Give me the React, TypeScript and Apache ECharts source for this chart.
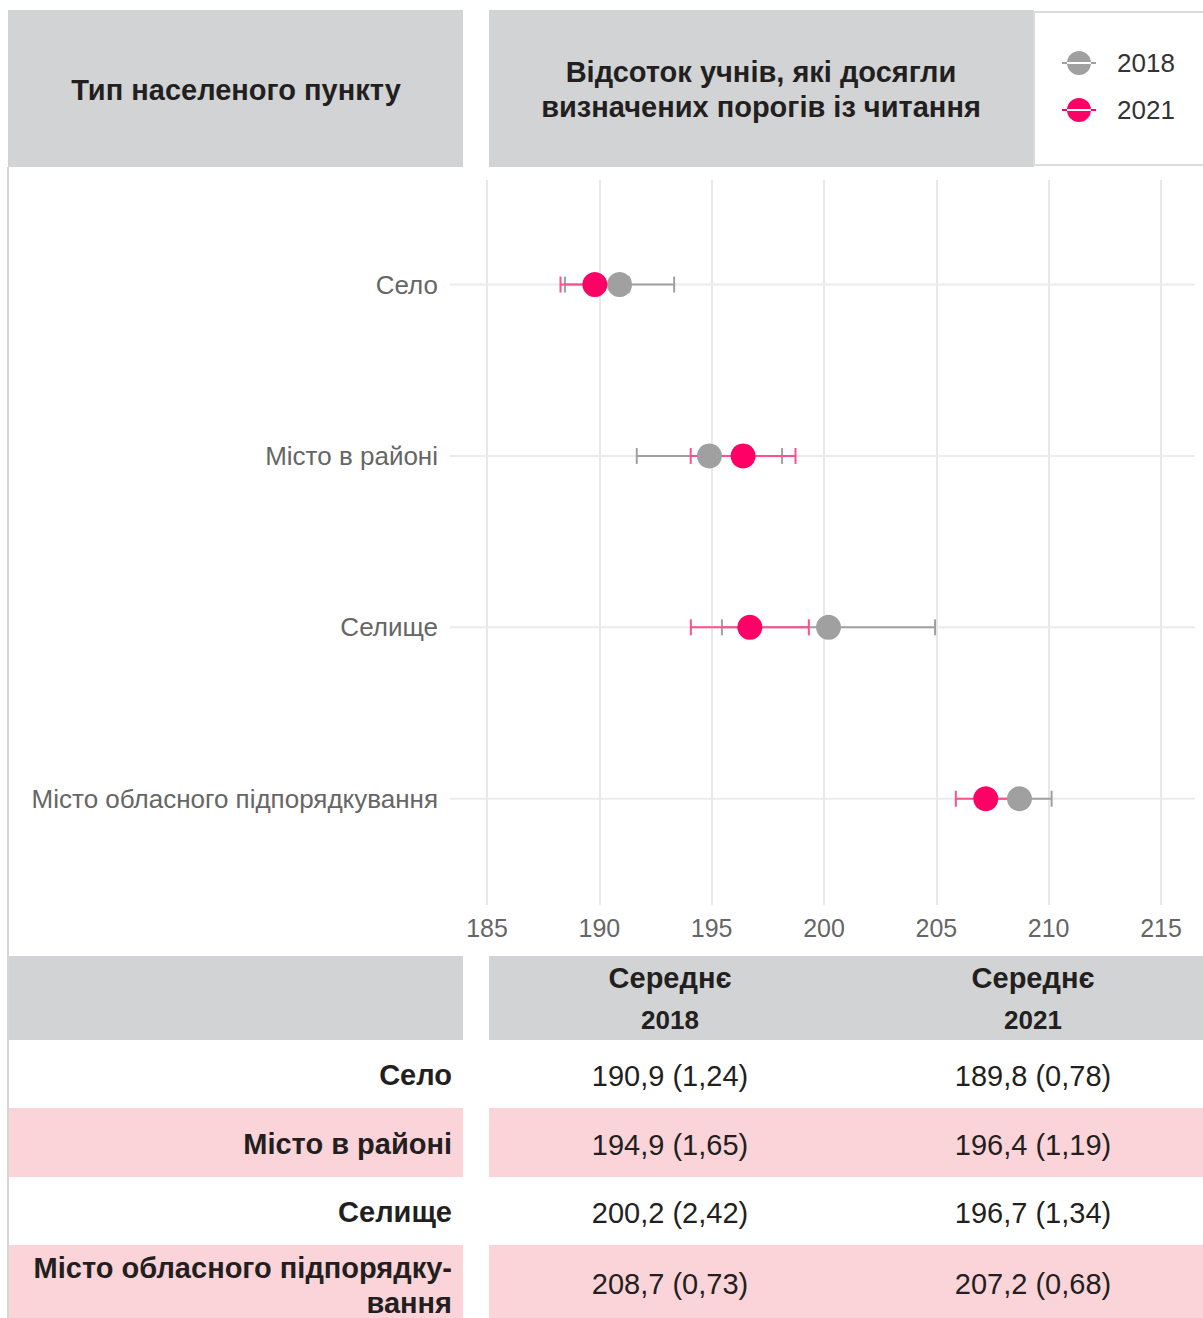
import React, { useEffect, useRef } from "react";
import * as echarts from "echarts";

const categories = ["Село", "Місто в районі", "Селище", "Місто обласного підпорядкування"];
const tableLabels = [["Село"], ["Місто в районі"], ["Селище"], ["Місто обласного підпорядку-", "вання"]];
const years = ["2018", "2021"];
const mean2018 = [190.9, 194.9, 200.2, 208.7];
const se2018 = [1.24, 1.65, 2.42, 0.73];
const mean2021 = [189.8, 196.4, 196.7, 207.2];
const se2021 = [0.78, 1.19, 1.34, 0.68];
const xTicks = [185, 190, 195, 200, 205, 210, 215];

const GRAY = "#a0a0a0";
const PINK = "#ff0066";
const PINK_LINE = "#ff4f8e";
const FONT = "'Liberation Sans', Arial, sans-serif";
const DARK = "#231f20";

const fmt = (v: number, d: number) => v.toFixed(d).replace(".", ",");

export default function App() {
  const ref = useRef<HTMLDivElement>(null);
  useEffect(() => {
    if (!ref.current) return;
    const chart = echarts.init(ref.current, null, { renderer: "svg" });

    const errData = (means: number[], ses: number[]) =>
      means.map((m, i) => [m - 1.96 * ses[i], m + 1.96 * ses[i], i]);

    const errSeries = (name: string, means: number[], ses: number[], color: string, z: number) => ({
      type: "custom",
      name,
      silent: true,
      z,
      clip: false,
      itemStyle: { color },
      encode: { x: [0, 1], y: 2 },
      data: errData(means, ses),
      renderItem: (params: any, api: any) => {
        const lo = api.coord([api.value(0), api.value(2)]);
        const hi = api.coord([api.value(1), api.value(2)]);
        const style = { stroke: color, lineWidth: 2 };
        return {
          type: "group",
          children: [
            { type: "line", shape: { x1: lo[0], y1: lo[1], x2: hi[0], y2: hi[1] }, style },
            { type: "line", shape: { x1: lo[0], y1: lo[1] - 8, x2: lo[0], y2: lo[1] + 8 }, style },
            { type: "line", shape: { x1: hi[0], y1: hi[1] - 8, x2: hi[0], y2: hi[1] + 8 }, style },
          ],
        };
      },
    });

    const rowTop = [1040, 1108, 1177, 1245];
    const rowH = [68, 69, 68, 73];
    const graphics: any[] = [];
    // header boxes
    graphics.push({ type: "rect", shape: { x: 8, y: 10, width: 455, height: 157 }, style: { fill: "#d1d3d4" } });
    graphics.push({ type: "rect", shape: { x: 489, y: 10, width: 545, height: 157 }, style: { fill: "#d1d3d4" } });
    graphics.push({
      type: "rect",
      shape: { x: 1034, y: 12, width: 175, height: 153 },
      style: { fill: "#fff", stroke: "#dcdcdc", lineWidth: 2 },
    });
    graphics.push({
      type: "text",
      x: 236,
      y: 90,
      style: { text: "Тип населеного пункту", align: "center", verticalAlign: "middle", font: `bold 29px ${FONT}`, fill: DARK },
    });
    graphics.push({
      type: "text",
      x: 761,
      y: 72,
      style: { text: "Відсоток учнів, які досягли", align: "center", verticalAlign: "middle", font: `bold 29px ${FONT}`, fill: DARK },
    });
    graphics.push({
      type: "text",
      x: 761,
      y: 107,
      style: { text: "визначених порогів із читання", align: "center", verticalAlign: "middle", font: `bold 29px ${FONT}`, fill: DARK },
    });
    // left border
    graphics.push({ type: "rect", shape: { x: 7, y: 167, width: 2, height: 1151 }, style: { fill: "#d6d6d6" }, z: 10 });
    // table header
    graphics.push({ type: "rect", shape: { x: 8, y: 956, width: 455, height: 84 }, style: { fill: "#d1d3d4" } });
    graphics.push({ type: "rect", shape: { x: 489, y: 956, width: 714, height: 84 }, style: { fill: "#d1d3d4" } });
    const colX = [670, 1033];
    years.forEach((yr, k) => {
      graphics.push({
        type: "text",
        x: colX[k],
        y: 978,
        style: { text: "Середнє", align: "center", verticalAlign: "middle", font: `bold 29px ${FONT}`, fill: DARK },
      });
      graphics.push({
        type: "text",
        x: colX[k],
        y: 1020,
        style: { text: yr, align: "center", verticalAlign: "middle", font: `bold 26px ${FONT}`, fill: DARK },
      });
    });
    // table rows
    categories.forEach((c, i) => {
      const top = rowTop[i];
      const h = rowH[i];
      if (i % 2 === 1) {
        graphics.push({ type: "rect", shape: { x: 8, y: top, width: 455, height: h }, style: { fill: "#fad4d8" } });
        graphics.push({ type: "rect", shape: { x: 489, y: top, width: 714, height: h }, style: { fill: "#fad4d8" } });
      }
      const lines = tableLabels[i];
      const cy = top + h / 2;
      lines.forEach((ln, j) => {
        const y = lines.length === 1 ? cy + 1 : top + 23 + j * 35;
        graphics.push({
          type: "text",
          x: 452,
          y,
          style: { text: ln, align: "right", verticalAlign: "middle", font: `bold 29px ${FONT}`, fill: DARK },
        });
      });
      const vals = [
        `${fmt(mean2018[i], 1)} (${fmt(se2018[i], 2)})`,
        `${fmt(mean2021[i], 1)} (${fmt(se2021[i], 2)})`,
      ];
      vals.forEach((v, k) => {
        graphics.push({
          type: "text",
          x: colX[k],
          y: cy + 2,
          style: { text: v, align: "center", verticalAlign: "middle", font: `29px ${FONT}`, fill: DARK },
        });
      });
    });

    const legendIcon = "path://M0,11L34,11L34,13L0,13Z M5,12A12,12 0 1,0 29,12A12,12 0 1,0 5,12Z";

    chart.setOption({
      animation: false,
      backgroundColor: "#fff",
      graphic: graphics,
      legend: {
        orient: "vertical",
        left: 1057,
        top: 45,
        itemWidth: 34,
        itemHeight: 24,
        itemGap: 21,
        selectedMode: false,
        data: [
          { name: "2018", icon: legendIcon },
          { name: "2021", icon: legendIcon },
        ],
        textStyle: { fontSize: 26, color: "#333", fontFamily: FONT, padding: [0, 0, 0, 16] },
      },
      grid: { left: 487, right: 42, top: 180, bottom: 413, outerBoundsMode: "none" },
      xAxis: {
        type: "value",
        min: 185,
        max: 215,
        interval: 5,
        axisLine: { show: false },
        axisTick: { show: false },
        splitLine: { show: true, lineStyle: { color: "#e8e8e8", width: 2 } },
        axisLabel: {
          margin: 10,
          fontSize: 25,
          color: "#666",
          fontFamily: FONT,
          formatter: (v: number) => (xTicks.includes(v) ? String(v) : ""),
        },
      },
      yAxis: {
        type: "value",
        inverse: true,
        min: -0.61,
        max: 3.62,
        axisLine: { show: false },
        axisTick: { show: false },
        splitLine: { show: false },
        axisLabel: {
          customValues: [0, 1, 2, 3],
          margin: 49,
          fontSize: 26,
          color: "#666",
          fontFamily: FONT,
          padding: [6, 0, 0, 0],
          formatter: (v: number) => (Number.isInteger(v) && categories[v] ? categories[v] : ""),
        },
      },
      series: [
        {
          type: "custom",
          name: "grid-h",
          silent: true,
          clip: false,
          z: 1,
          encode: { x: [0, 2], y: 1 },
          data: categories.map((c, i) => [183.35, i, 216.5]),
          renderItem: (params: any, api: any) => {
            const a = api.coord([api.value(0), api.value(1)]);
            const b = api.coord([api.value(2), api.value(1)]);
            return {
              type: "line",
              shape: { x1: a[0], y1: a[1], x2: b[0], y2: b[1] },
              style: { stroke: "#ebebeb", lineWidth: 2 },
            };
          },
        },
        errSeries("err2018", mean2018, se2018, GRAY, 2),
        errSeries("err2021", mean2021, se2021, PINK_LINE, 3),
        {
          type: "scatter",
          name: "2018",
          z: 4,
          symbolSize: 25,
          itemStyle: { color: GRAY, opacity: 1 },
          data: mean2018.map((m, i) => [m, i]),
        },
        {
          type: "scatter",
          name: "2021",
          z: 5,
          symbolSize: 25,
          itemStyle: { color: PINK, opacity: 1 },
          data: mean2021.map((m, i) => [m, i]),
        },
      ],
    });
    return () => chart.dispose();
  }, []);

  return (
    <div
      ref={ref}
      style={{ position: "absolute", left: 0, top: 0, width: 1203, height: 1318, background: "#fff" }}
    />
  );
}
